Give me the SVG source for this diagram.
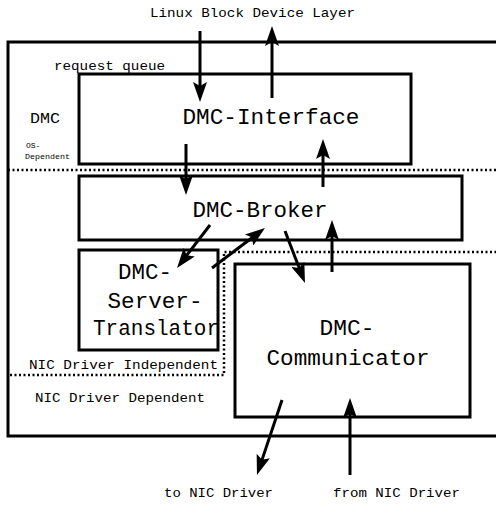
<svg xmlns="http://www.w3.org/2000/svg" width="496" height="506" viewBox="0 0 496 506">
  <style>
    .box { fill: none; stroke: #000; stroke-width: 3; }
    .dots { fill: none; stroke: #000; stroke-width: 2.5; stroke-dasharray: 2 2.5; }
    .arrow { fill: none; stroke: #000; stroke-width: 3; marker-end: url(#head); }
    text { font-family: "Liberation Mono", "Courier New", monospace; fill: #000; }
    .big { font-size: 22px; text-anchor: middle; }
    .small { font-size: 13px; }
    .tiny { font-size: 8px; }
  </style>
  <defs>
    <marker id="head" viewBox="0 -7 20 14" refX="12" refY="0" markerWidth="20" markerHeight="14" markerUnits="userSpaceOnUse" orient="auto">
      <path d="M0,-7 L20,0 L0,7 L4,0 z" fill="#000"/>
    </marker>
  </defs>

  <rect width="496" height="506" fill="#fff"/>

  <!-- DMC outer frame, open to the right -->
  <g id="dmc-frame">
    <path class="box" d="M500,42 H8 V436 H500"/>
    <text class="small" x="54" y="70" textLength="111" lengthAdjust="spacingAndGlyphs">request queue</text>
    <text x="30" y="123" font-size="15" textLength="30" lengthAdjust="spacingAndGlyphs">DMC</text>
    <text class="tiny" x="26" y="148">OS-</text>
    <text class="tiny" x="25" y="159" textLength="45" lengthAdjust="spacingAndGlyphs">Dependent</text>
  </g>

  <!-- layer boundaries -->
  <g id="boundaries">
    <path class="dots" d="M8,170 H496"/>
    <path class="dots" d="M10,375 H224 V252 H496"/>
    <text class="small" x="29" y="369" textLength="189" lengthAdjust="spacingAndGlyphs">NIC Driver Independent</text>
    <text class="small" x="35" y="402" textLength="170" lengthAdjust="spacingAndGlyphs">NIC Driver Dependent</text>
  </g>

  <g id="dmc-interface">
    <rect class="box" x="79" y="74" width="332" height="90"/>
    <text class="big" x="271" y="124" textLength="177" lengthAdjust="spacingAndGlyphs">DMC-Interface</text>
  </g>

  <g id="dmc-broker">
    <rect class="box" x="79" y="176" width="383" height="64"/>
    <text class="big" x="260" y="217" textLength="135" lengthAdjust="spacingAndGlyphs">DMC-Broker</text>
  </g>

  <g id="dmc-server-translator">
    <rect class="box" x="79" y="250" width="139" height="100"/>
    <text class="big" x="145" y="279" textLength="54" lengthAdjust="spacingAndGlyphs">DMC-</text>
    <text class="big" x="155" y="308" textLength="95" lengthAdjust="spacingAndGlyphs">Server-</text>
    <text class="big" x="156" y="335" textLength="126" lengthAdjust="spacingAndGlyphs">Translator</text>
  </g>

  <g id="dmc-communicator">
    <rect class="box" x="235" y="264" width="235" height="153"/>
    <text class="big" x="347" y="335" textLength="55" lengthAdjust="spacingAndGlyphs">DMC-</text>
    <text class="big" x="348" y="365" textLength="163" lengthAdjust="spacingAndGlyphs">Communicator</text>
  </g>

  <g id="external-labels">
    <text class="small" x="150" y="17" textLength="205" lengthAdjust="spacingAndGlyphs">Linux Block Device Layer</text>
    <text class="small" x="164" y="497" textLength="109" lengthAdjust="spacingAndGlyphs">to NIC Driver</text>
    <text class="small" x="333" y="497" textLength="127" lengthAdjust="spacingAndGlyphs">from NIC Driver</text>
  </g>

  <g id="connectors">
    <line class="arrow" x1="200" y1="31" x2="200" y2="94"/>
    <line class="arrow" x1="272" y1="98" x2="272" y2="34"/>
    <line class="arrow" x1="186" y1="144" x2="186" y2="187"/>
    <line class="arrow" x1="323" y1="187" x2="323" y2="147"/>
    <line class="arrow" x1="210" y1="225" x2="181.9" y2="261.7"/>
    <line class="arrow" x1="212" y1="268" x2="258.6" y2="232.8"/>
    <line class="arrow" x1="285" y1="231" x2="302.1" y2="275.5"/>
    <line class="arrow" x1="332" y1="272" x2="332" y2="228"/>
    <line class="arrow" x1="282" y1="400" x2="259.5" y2="467.4"/>
    <line class="arrow" x1="350" y1="475" x2="350" y2="406"/>
  </g>
</svg>
